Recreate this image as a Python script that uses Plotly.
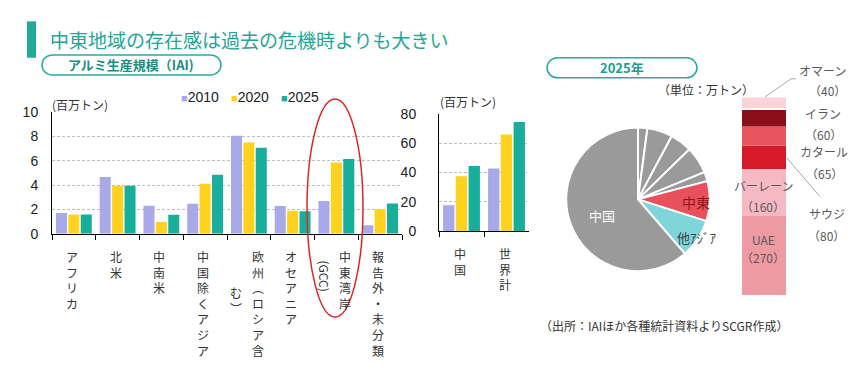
import plotly.graph_objects as go
import numpy as np

W, H = 865, 370
def px(x): return x / W
def py(y): return 1 - y / H

# ---------------- data ----------------
regions = ["アフリカ", "北米", "中南米", "中国除くアジア", "欧州（ロシア含む）",
           "オセアニア", "中東湾岸（GCC）", "報告外・未分類"]
v2010 = [1.72, 4.67, 2.30, 2.48, 8.07, 2.28, 2.70, 0.71]
v2020 = [1.58, 3.96, 0.98, 4.12, 7.51, 1.90, 5.87, 2.01]
v2025 = [1.58, 3.96, 1.56, 4.85, 7.09, 1.85, 6.16, 2.49]

total_cats = ["中国", "世界計"]
t2010 = [17.5, 42.6]
t2020 = [37.4, 65.8]
t2025 = [44.4, 74.3]

years = ["2010", "2020", "2025"]
year_colors = ["#A9A9E8", "#FFD21E", "#17AF9B"]

pie_labels = ["その他1", "その他2", "その他3", "その他4", "その他5", "中東", "他アジア", "中国"]
pie_share = [2.1, 5.7, 4.9, 6.1, 2.1, 9.0, 8.75, 61.3]
pie_colors = ["#9A9A9A"] * 5 + ["#E8505B", "#7ED6DA", "#9A9A9A"]

me_countries = ["UAE", "バーレーン", "サウジ", "カタール", "イラン", "オマーン"]
me_values = [270, 160, 80, 65, 60, 40]
me_colors = ["#EE9AA3", "#F6B8C2", "#D51B2A", "#E8545E", "#8B0F1A", "#F9D3D8"]

JP = "Noto Sans CJK JP"
NUM = "Liberation Sans"
TXT = "#333333"

fig = go.Figure()

for yr, col, vals in zip(years, year_colors, [v2010, v2020, v2025]):
    fig.add_trace(go.Bar(x=regions, y=vals, name=yr, marker=dict(color=col, line=dict(width=0)),
                         xaxis="x", yaxis="y", showlegend=False))
for yr, col, vals in zip(years, year_colors, [t2010, t2020, t2025]):
    fig.add_trace(go.Bar(x=total_cats, y=vals, name=yr, marker=dict(color=col, line=dict(width=0)),
                         xaxis="x2", yaxis="y2", showlegend=False))

fig.add_trace(go.Pie(labels=pie_labels, values=pie_share, sort=False, direction="clockwise",
                     rotation=0, marker=dict(colors=pie_colors, line=dict(color="white", width=2)),
                     textinfo="none", hoverinfo="label+percent", showlegend=False,
                     domain=dict(x=[px(563), px(713)], y=[py(275), py(125)])))

me_base = list(np.cumsum(me_values) - np.array(me_values))
fig.add_trace(go.Bar(x=[0] * len(me_values), y=me_values, base=me_base, width=1, offset=-0.5,
                     marker=dict(color=me_colors, line=dict(width=0)),
                     hovertext=me_countries, xaxis="x3", yaxis="y3", showlegend=False))

grid = dict(showgrid=True, gridcolor="#BFBFBF", griddash="3px,2px", gridwidth=1)

fig.update_layout(
    width=W, height=H, margin=dict(l=0, r=0, t=0, b=0),
    paper_bgcolor="white", plot_bgcolor="white",
    barmode="group", bargap=0.15, bargroupgap=0.11,
    font=dict(family=JP, color=TXT),
    xaxis=dict(domain=[px(52), px(402)], range=[-0.5, 7.5], showline=True, linecolor="black",
               linewidth=1, ticks="outside", tickson="boundaries", ticklen=5, tickcolor="black",
               showticklabels=False, showgrid=False, anchor="y"),
    yaxis=dict(domain=[py(236), py(109)], range=[0, 10], dtick=2, showline=True, linecolor="black",
               linewidth=1, zeroline=False, tickfont=dict(family=NUM, size=14, color="#222"),
               ticklabelstandoff=10, anchor="x", **grid),
    xaxis2=dict(domain=[px(439), px(529)], range=[-0.5, 1.5], showline=True, linecolor="black",
                linewidth=1, ticks="outside", tickson="boundaries", ticklen=5, tickcolor="black",
                showticklabels=False, showgrid=False, anchor="y2"),
    yaxis2=dict(domain=[py(233), py(110.5)], range=[0, 80], dtick=20, showline=True, linecolor="black",
                linewidth=1, zeroline=False, tickfont=dict(family=NUM, size=14, color="#222"),
                ticklabelstandoff=19, anchor="x2", **grid),
    xaxis3=dict(domain=[px(742), px(786)], range=[-0.5, 0.5], visible=False, anchor="y3"),
    yaxis3=dict(domain=[py(300), py(93.3)], range=[0, sum(me_values)], visible=False, anchor="x3"),
)

def pill(x0, y0, x1, y1):
    r = (y1 - y0) / 2
    cy = (y0 + y1) / 2
    k = 0.5523 * r
    pts = [("M", [(x0 + r, y0)]), ("L", [(x1 - r, y0)]),
           ("C", [(x1 - r + k, y0), (x1, cy - k), (x1, cy)]),
           ("C", [(x1, cy + k), (x1 - r + k, y1), (x1 - r, y1)]),
           ("L", [(x0 + r, y1)]),
           ("C", [(x0 + r - k, y1), (x0, cy + k), (x0, cy)]),
           ("C", [(x0, cy - k), (x0 + r - k, y0), (x0 + r, y0)])]
    s = ""
    for cmd, ps in pts:
        s += cmd + " " + " ".join(f"{px(a):.5f},{py(b):.5f}" for a, b in ps) + " "
    return s + "Z"

teal_line = "#2AAA9C"
shapes = [
    dict(type="rect", xref="paper", yref="paper", x0=px(27), x1=px(36), y0=py(52), y1=py(14),
         fillcolor="#21A99A", line=dict(width=0)),
    dict(type="path", xref="paper", yref="paper", path=pill(42, 49, 221, 70),
         line=dict(color=teal_line, width=1.5), fillcolor="rgba(0,0,0,0)"),
    dict(type="path", xref="paper", yref="paper", path=pill(547, 52, 697, 73),
         line=dict(color=teal_line, width=1.5), fillcolor="rgba(0,0,0,0)"),
    dict(type="circle", xref="paper", yref="paper", x0=px(307), x1=px(363), y0=py(323), y1=py(95),
         line=dict(color="#E02626", width=1.5)),
    dict(type="path", xref="paper", yref="paper",
         path=f"M {px(765)},{py(93)} L {px(791)},{py(74)} L {px(796)},{py(74)}",
         line=dict(color="#A6A6A6", width=1)),
    dict(type="line", xref="paper", yref="paper", x0=px(787), y0=py(157), x1=px(820), y1=py(197),
         line=dict(color="#A6A6A6", width=1)),
    # thin white separator between オマーン and イラン segments
    dict(type="line", xref="x3", yref="y3", x0=-0.5, x1=0.5,
         y0=sum(me_values) - me_values[-1], y1=sum(me_values) - me_values[-1],
         line=dict(color="white", width=2)),
]
fig.update_layout(shapes=shapes)

ann = []
def A(text, x, y, size=12, color=TXT, xanchor="center", yanchor="middle", family=JP, **kw):
    ann.append(dict(text=text, x=px(x), y=py(y), xref="paper", yref="paper", showarrow=False,
                    xanchor=xanchor, yanchor=yanchor, font=dict(size=size, color=color, family=family), **kw))

A("中東地域の存在感は過去の危機時よりも大きい", 48, 33, size=19, color="#25A596", xanchor="left")
A("<b>アルミ生産規模（IAI)</b>", 131, 59.5, size=13, color="#1E8C80")
A("<b>2025年</b>", 622, 62.5, size=13, color="#1E9E8E")
A("(百万トン)", 80, 101, size=12)
A("(百万トン)", 468, 98, size=12)

# legend
for i, (yr, col) in enumerate(zip(years, year_colors)):
    A(f"<span style='color:{col};font-size:11px'>■</span>{yr}", 179 + 50 * i, 93, size=14,
      family=NUM, color="#222", xanchor="left")

def vert(s):
    return "<br>".join(list(s))

def catlab(text, xref, cat, xshift=0, top=249, size=12):
    ann.append(dict(text=text, x=cat, y=py(top), xref=xref, yref="paper", showarrow=False,
                    xanchor="center", yanchor="top", xshift=xshift,
                    font=dict(size=size, color=TXT, family=JP)))

for r in regions:
    if r.startswith("欧州"):
        catlab(vert("欧州︵ロシア含"), "x", r, xshift=9)
        catlab(vert("む︶"), "x", r, xshift=-13, top=286)
    elif r.startswith("中東"):
        catlab(vert("中東湾岸"), "x", r, xshift=9)
        ann.append(dict(text="(GCC)", x=r, y=py(280), xref="x", yref="paper", showarrow=False,
                        xanchor="center", yanchor="middle", xshift=-12, textangle=90,
                        font=dict(size=12, color=TXT, family=JP)))
    else:
        catlab(vert(r), "x", r, xshift=-2)
for c in total_cats:
    catlab(vert(c), "x2", c, xshift=-2, top=246)

# pie labels
A("中国", 602, 217, size=13, color="white")
A("中東", 696, 203, size=14, color="#8B1A1A")
A("他ｱｼﾞｱ", 697, 240, size=13, color="#404040")

# stacked bar labels
A("（単位：万トン）", 706, 85, size=12)
lab = dict(zip(me_countries, me_values))
A("オマーン", 822, 65, color="#595959")
A(f"（{lab['オマーン']}）", 827, 86, color="#595959")
A("イラン", 823, 110, color="#595959")
A(f"（{lab['イラン']}）", 823, 132, color="#595959")
A("カタール", 824, 150, color="#595959")
A(f"（{lab['カタール']}）", 824, 173, color="#595959")
A("サウジ", 827, 215, color="#595959")
A(f"（{lab['サウジ']}）", 826, 238, color="#595959")
A("バーレーン", 763, 186, color="#595959")
A(f"（{lab['バーレーン']}）", 763, 207, color="#595959")
A("UAE", 763, 242, color="#595959")
A(f"（{lab['UAE']}）", 763, 261, color="#595959")

A("（出所：IAIほか各種統計資料よりSCGR作成）", 664, 332, size=12)

fig.update_layout(annotations=ann)
fig.write_html("out.html", config={"displayModeBar": False},
               post_script="document.body.style.margin='0px';document.body.style.overflow='hidden';")
